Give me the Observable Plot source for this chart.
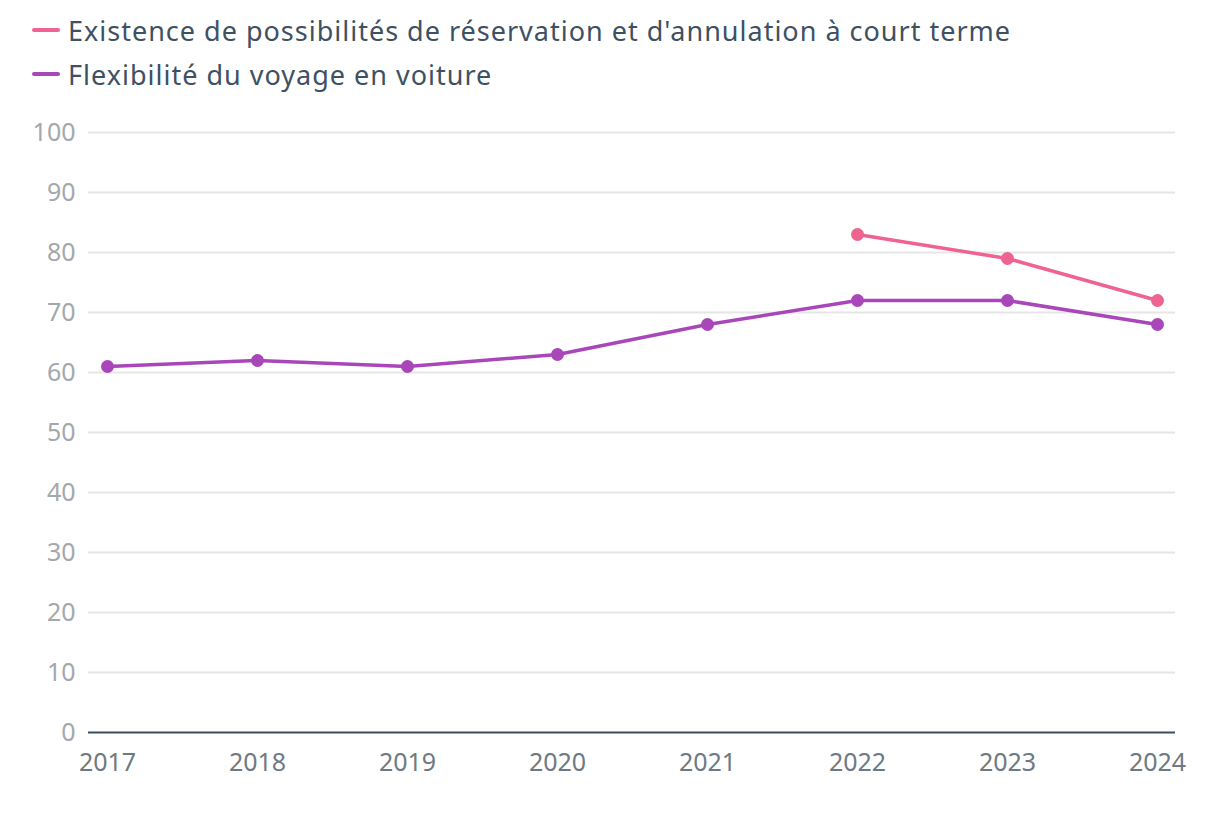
<!DOCTYPE html>
<html><head><meta charset="utf-8">
<script src="https://cdn.jsdelivr.net/npm/d3@7"></script>
<script src="https://cdn.jsdelivr.net/npm/@observablehq/plot@0.6"></script>
<style>
body{margin:0;background:#fff;font-family:"Noto Sans",sans-serif;}
#legend{height:100px;box-sizing:border-box;padding:8px 0 0 32px;}
.item{display:flex;align-items:center;height:44px;font-size:27px;letter-spacing:1px;color:#3e5162;}
.sw{width:28px;height:4px;border-radius:2px;margin-right:8px;}
</style></head><body>
<div id="legend"></div>
<div id="chart"></div>
<script>
const years = ["2017","2018","2019","2020","2021","2022","2023","2024"];
const seriesNames = ["Existence de possibilités de réservation et d'annulation à court terme","Flexibilité du voyage en voiture"];
const colors = ["#ef6391","#a947ba"];
const reservationYears = ["2022","2023","2024"];
const reservationValues = [83,79,72];
const flexibiliteValues = [61,62,61,63,68,72,72,68];
const yTicks = [0,10,20,30,40,50,60,70,80,90,100];

const data = [
  ...reservationYears.map((y,i)=>({year:y,value:reservationValues[i],series:seriesNames[0]})),
  ...years.map((y,i)=>({year:y,value:flexibiliteValues[i],series:seriesNames[1]}))
];

const leg = document.getElementById("legend");
seriesNames.forEach((n,i)=>{
  const d=document.createElement("div");d.className="item";
  d.innerHTML=`<span class="sw" style="background:${colors[i]}"></span><span>${n}</span>`;
  leg.appendChild(d);
});

const chart = Plot.plot({
  width:1220, height:730,
  marginTop:32, marginBottom:98, marginLeft:88, marginRight:45,
  style:{fontFamily:"Noto Sans, sans-serif", fontSize:"24px"},
  x:{type:"point", domain:years, padding:0, inset:18, label:null},
  y:{domain:[0,100], label:null},
  color:{domain:seriesNames, range:colors},
  marks:[
    Plot.ruleY(yTicks.filter(t=>t>0),{stroke:"#e6e6e6",strokeWidth:2}),
    Plot.axisY(yTicks,{tickSize:0,tickPadding:13,fill:"#a3a8ad",fontSize:25,label:null}),
    Plot.axisX(years,{tickSize:0,tickPadding:21,fill:"#6f7984",fontSize:25,label:null}),
    Plot.ruleY([0],{stroke:"#3d4f5c",strokeWidth:2}),
    Plot.line(data,{x:"year",y:"value",stroke:"series",strokeWidth:3.5}),
    Plot.dot(data,{x:"year",y:"value",fill:"series",r:6.5})
  ]
});
document.getElementById("chart").appendChild(chart);
</script>
</body></html>
